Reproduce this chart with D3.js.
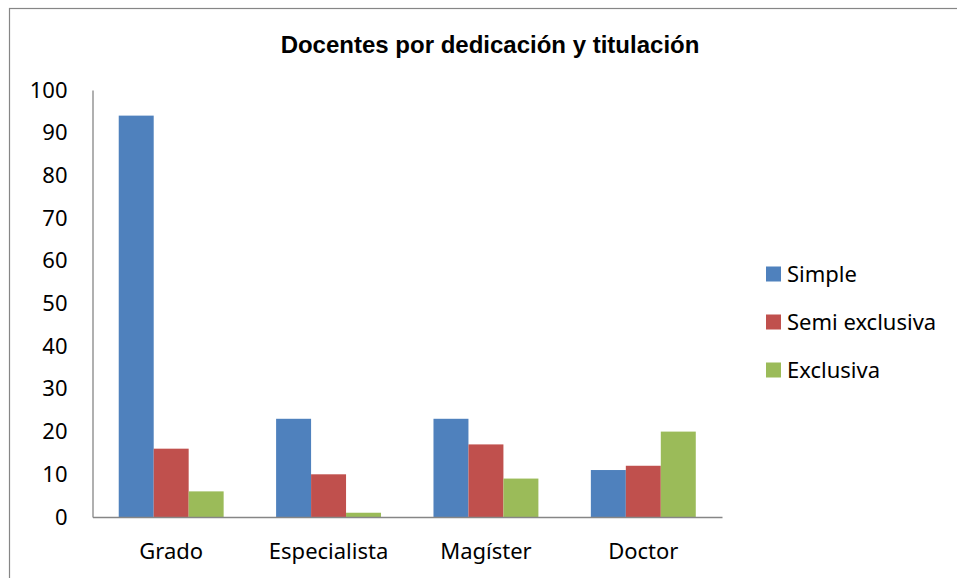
<!DOCTYPE html>
<html>
<head>
<meta charset="utf-8">
<script src="https://cdn.jsdelivr.net/npm/d3@7"></script>
<style>
  html, body { margin: 0; padding: 0; background: #fff; }
  svg { display: block; }
</style>
</head>
<body>
<svg id="chart" width="957" height="578"></svg>
<script>
// data
var categories = ["Grado", "Especialista", "Magíster", "Doctor"];
var seriesNames = ["Simple", "Semi exclusiva", "Exclusiva"];
var simple = [94, 23, 23, 11];
var semiExclusiva = [16, 10, 17, 12];
var exclusiva = [6, 1, 9, 20];
var yTicks = [0, 10, 20, 30, 40, 50, 60, 70, 80, 90, 100];
var colors = ["#4F81BD", "#C0504D", "#9BBB59"];

var series = [simple, semiExclusiva, exclusiva];

var svg = d3.select("#chart");

var plotLeft = 92.5, plotRight = 722, plotTop = 90, plotBottom = 517;

// outer frame (right and bottom edges are cut off in the picture)
svg.append("rect")
  .attr("x", 9.5).attr("y", 8.5)
  .attr("width", 1200).attr("height", 1200)
  .attr("fill", "none")
  .attr("stroke", "#868686")
  .attr("stroke-width", 1.2);

svg.append("text")
  .attr("x", 490).attr("y", 53)
  .attr("text-anchor", "middle")
  .style("font-family", "'Liberation Sans', Arial, sans-serif")
  .style("font-weight", "bold")
  .style("font-size", "24px")
  .text("Docentes por dedicación y titulación");

var x = d3.scaleBand()
  .domain(categories)
  .range([plotLeft, plotRight])
  .paddingInner(1 / 3)
  .paddingOuter(1 / 6);

var xs = d3.scaleBand()
  .domain(seriesNames)
  .range([0, x.bandwidth()]);

var y = d3.scaleLinear()
  .domain([0, 100])
  .range([plotBottom, plotTop]);

var groups = svg.append("g").selectAll("g")
  .data(categories)
  .join("g")
  .attr("transform", (d) => "translate(" + x(d) + ",0)");

groups.selectAll("rect")
  .data((d, i) => seriesNames.map((s, j) => ({ name: s, value: series[j][i], c: colors[j] })))
  .join("rect")
  .attr("x", (d) => xs(d.name))
  .attr("y", (d) => y(d.value))
  .attr("width", xs.bandwidth())
  .attr("height", (d) => plotBottom - y(d.value))
  .attr("fill", (d) => d.c);

// y axis
var yAxis = svg.append("g")
  .attr("transform", "translate(" + plotLeft + ",0)")
  .call(d3.axisLeft(y).tickValues(yTicks).tickSize(0).tickPadding(25));
yAxis.select(".domain").attr("stroke", "#868686").attr("stroke-width", 1.3);
yAxis.selectAll("text")
  .attr("fill", "#000")
  .style("font-family", "'Noto Sans', sans-serif")
  .style("font-size", "22px");

// x axis
var xAxis = svg.append("g")
  .attr("transform", "translate(0," + plotBottom + ")")
  .call(d3.axisBottom(x).tickSize(0).tickPadding(26));
xAxis.select(".domain").attr("stroke", "#868686").attr("stroke-width", 1.5);
xAxis.selectAll("text")
  .attr("fill", "#000")
  .style("font-family", "'Noto Sans', sans-serif")
  .style("font-size", "22px");

// legend
var legend = svg.append("g").selectAll("g")
  .data(seriesNames)
  .join("g")
  .attr("transform", (d, i) => "translate(766," + (274 + i * 48) + ")");

legend.append("rect")
  .attr("x", 0).attr("y", -7.5)
  .attr("width", 15).attr("height", 15)
  .attr("fill", (d, i) => colors[i]);

legend.append("text")
  .attr("x", 21).attr("dy", "0.35em")
  .style("font-family", "'Noto Sans', sans-serif")
  .style("font-size", "22px")
  .text((d) => d);
</script>
</body>
</html>
